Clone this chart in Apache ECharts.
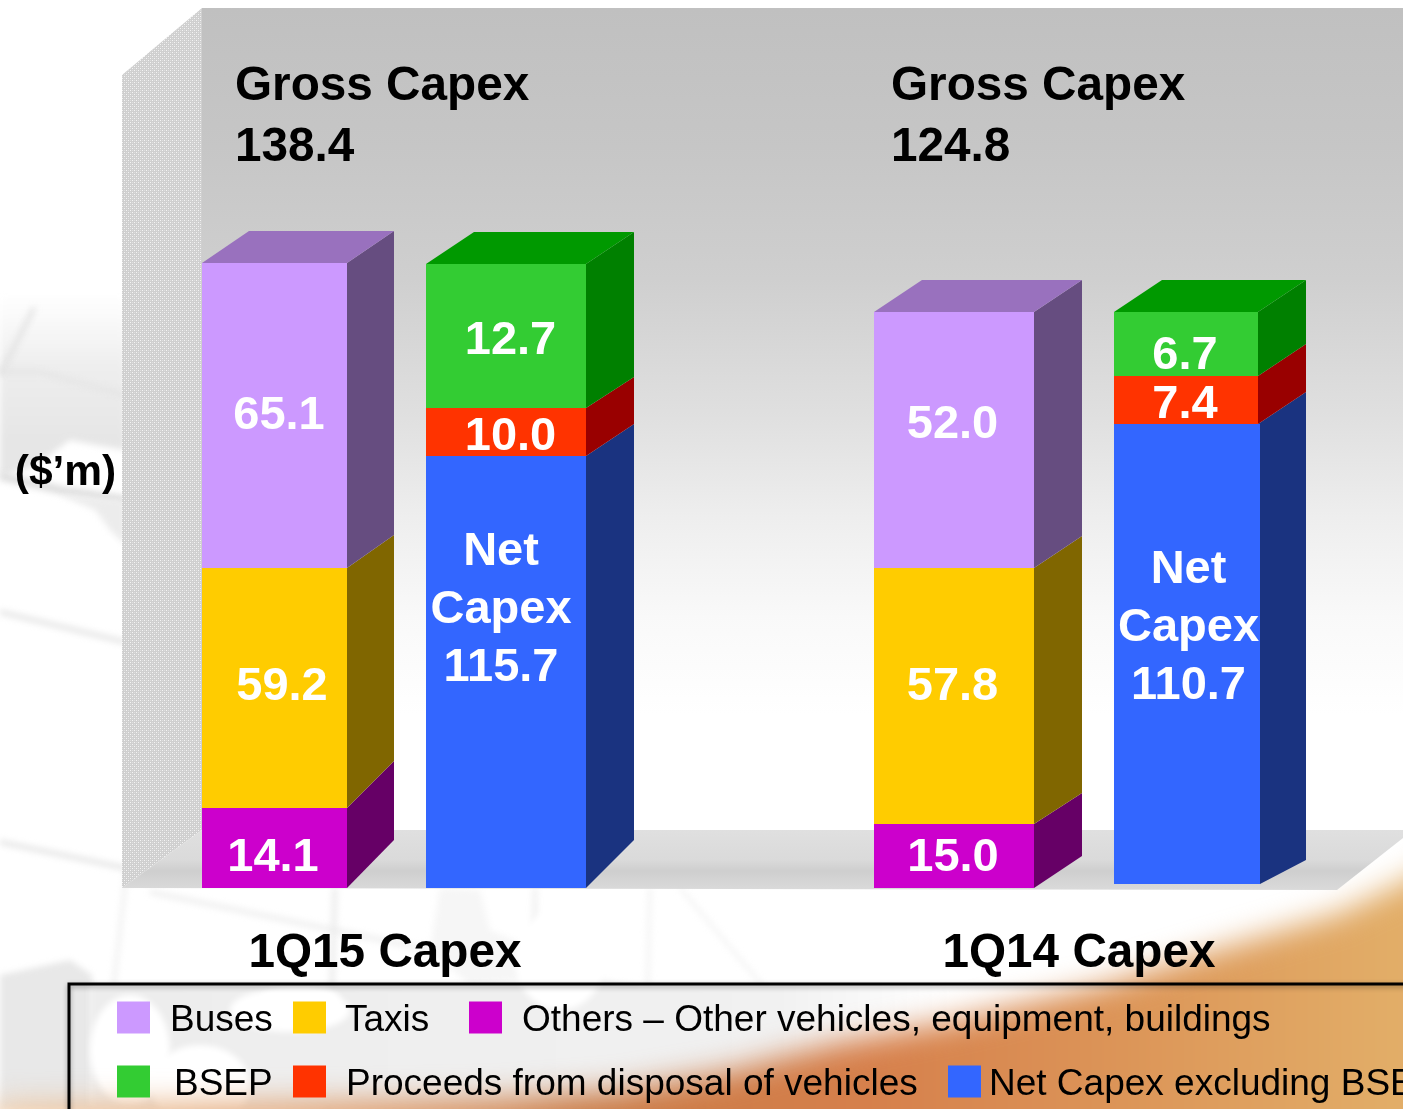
<!DOCTYPE html>
<html>
<head>
<meta charset="utf-8">
<style>html,body{margin:0;padding:0;background:#fff;overflow:hidden}#chart{width:1403px;height:1109px}</style>
<script src="https://cdn.jsdelivr.net/npm/echarts@6/dist/echarts.min.js"></script>
</head>
<body>
<div id="chart"></div>
<script>
// Slots on the category axis (third one is the empty gap between the two quarters)
const barSlots = ['1Q15 Gross', '1Q15 Net', '', '1Q14 Gross', '1Q14 Net'];
const quarterLabels = ['1Q15 Capex', '1Q14 Capex'];
const grossTitle = 'Gross Capex';
const grossTotals = ['138.4', '124.8'];
const unitLabel = '($\u2019m)';

// Printed values, [1Q15, 1Q14]
const busesValues = [65.1, 52.0];
const taxisValues = [59.2, 57.8];
const othersValues = [14.1, 15.0];
const bsepValues = [12.7, 6.7];
const proceedsValues = [10.0, 7.4];
const netCapexValues = [115.7, 110.7];

// The source slide's blocks are not to scale with their printed values:
// these are the block heights, on the axis where 138.4 is the full 1Q15 stack.
const busesDrawn = [67.53, 56.68];
const taxisDrawn = [53.14, 56.68];
const othersDrawn = [17.71, 14.17];
const bsepDrawn = [31.88, 14.17];
const proceedsDrawn = [10.63, 10.63];
const netCapexDrawn = [95.65, 101.85];
const netBaseDrawn = [0, 0.89];

// Style / layout of the pseudo-3D blocks
const FONT = '"Liberation Sans", Arial, sans-serif';
const barStyle = {
  0: { dx: 0.5, w: 145, depth: 47, rise: [48, 47, 33, 32] },
  1: { dx: 4, w: 160, depth: 48, rise: [48, 32, 31, 32] },
  3: { dx: -4, w: 160, depth: 48, rise: [32, 31, 32, 32] },
  4: { dx: 0, w: 144, depth: 48, rise: [24, 32, 32, 32], baseExtra: 2 }
};
const palette = {
  buses: { front: '#CC99FF', side: '#664D80', top: '#9971BE' },
  taxis: { front: '#FFCC00', side: '#806600' },
  others: { front: '#CC00CC', side: '#660066' },
  bsep: { front: '#33CC33', side: '#008000', top: '#009900' },
  proceeds: { front: '#FF3300', side: '#990000' },
  net: { front: '#3366FF', side: '#1A3380' }
};

function stackSeries(name, colors, slots, values, drawn, bases, level, isTop, textOffsets, labelFn, lineHeight) {
  const data = slots.map((slot, i) => [slot, bases[i], bases[i] + drawn[i], values[i], i]);
  return {
    type: 'custom',
    name,
    clip: false,
    z: 3,
    itemStyle: { color: colors.front },
    encode: { x: 0, y: [1, 2] },
    data,
    renderItem(params, api) {
      const slot = api.value(0);
      const g = barStyle[slot];
      const center = api.coord([slot, 0])[0] + g.dx;
      const L = center - g.w / 2;
      const Rplain = L + g.w;
      let Rfront = Rplain;
      const Rback = Rplain + g.depth;
      const i = api.value(4);
      if (level === 0 && g.baseExtra) Rfront += g.baseExtra;
      const yb = api.coord([slot, api.value(1)])[1];
      const yt = api.coord([slot, api.value(2)])[1];
      const rb = g.rise[level], rt = g.rise[level + 1];
      const children = [
        { type: 'rect', shape: { x: L, y: yt, width: Rfront - L, height: yb - yt }, style: { fill: colors.front } },
        { type: 'polygon', shape: { points: [[Rplain, yt], [Rback, yt - rt], [Rback, yb - rb], [Rfront, yb], [Rfront, yt]] }, style: { fill: colors.side } }
      ];
      if (isTop) {
        children.push({ type: 'polygon', shape: { points: [[L, yt], [L + g.depth, yt - rt], [Rback, yt - rt], [Rfront, yt]] }, style: { fill: colors.top } });
      }
      const off = textOffsets[i];
      children.push({
        type: 'text', z2: 10,
        style: {
          x: center + off[0], y: (yb + yt) / 2 + off[1],
          text: labelFn(api.value(3)),
          fill: '#fff', font: 'bold 47px ' + FONT, align: 'center', verticalAlign: 'middle',
          lineHeight: lineHeight || 47
        }
      });
      return { type: 'group', children };
    }
  };
}

const fmt = v => Number(v).toFixed(1);
const zero = [0, 0];
const taxisBase = othersDrawn;
const busesBase = othersDrawn.map((v, i) => v + taxisDrawn[i]);
const proceedsBase = netCapexDrawn.map((v, i) => v + netBaseDrawn[i]);
const bsepBase = proceedsBase.map((v, i) => v + proceedsDrawn[i]);

const NAME_BUSES = 'Buses', NAME_TAXIS = 'Taxis', NAME_OTHERS = 'Others \u2013 Other vehicles, equipment, buildings';
const NAME_BSEP = 'BSEP', NAME_PROCEEDS = 'Proceeds from disposal of vehicles', NAME_NET = 'Net Capex excluding BSEP';

const series = [
  stackSeries(NAME_OTHERS, palette.others, [0, 3], othersValues, othersDrawn, zero, 0, false, [[-1.5, 10], [-1, 2]], fmt),
  stackSeries(NAME_TAXIS, palette.taxis, [0, 3], taxisValues, taxisDrawn, taxisBase, 1, false, [[7.5, -1], [-1.5, -9]], fmt),
  stackSeries(NAME_BUSES, palette.buses, [0, 3], busesValues, busesDrawn, busesBase, 2, true, [[4.5, 0.5], [-1.5, -15]], fmt),
  stackSeries(NAME_NET, palette.net, [1, 4], netCapexValues, netCapexDrawn, netBaseDrawn, 0, false, [[-5, -61.5], [2.5, -26]], v => 'Net\nCapex\n' + fmt(v), 58),
  stackSeries(NAME_PROCEEDS, palette.proceeds, [1, 4], proceedsValues, proceedsDrawn, proceedsBase, 1, false, [[4.5, 5], [-1, 5]], fmt),
  stackSeries(NAME_BSEP, palette.bsep, [1, 4], bsepValues, bsepDrawn, bsepBase, 2, true, [[4.5, 5], [-1, 12]], fmt)
];

function legendItem(name, left, top, pad) {
  return {
    data: [name], left, top, orient: 'horizontal', icon: 'rect', selectedMode: false,
    itemWidth: 33, itemHeight: 32, padding: 0, itemGap: 0,
    formatter: '{t|{name}}',
    textStyle: {
      rich: { t: { fontFamily: FONT, fontSize: 37, color: '#000', padding: [6, 0, 0, pad], lineHeight: 32 } }
    }
  };
}

// Background artwork of the slide: faint watermark and orange sweep
function backgroundArt() {
  const c = document.createElement('canvas');
  c.width = 1403; c.height = 1109;
  const x = c.getContext('2d');
  x.fillStyle = '#fff'; x.fillRect(0, 0, 1403, 1109);
  function poly(pts, fill) {
    x.beginPath(); pts.forEach((p, i) => i ? x.lineTo(p[0], p[1]) : x.moveTo(p[0], p[1])); x.closePath(); x.fillStyle = fill; x.fill();
  }
  function line(pts, w, col) {
    x.beginPath(); pts.forEach((p, i) => i ? x.lineTo(p[0], p[1]) : x.moveTo(p[0], p[1])); x.lineWidth = w; x.strokeStyle = col; x.stroke();
  }
  x.filter = 'blur(3px)';
  // upper-left grey mass
  const g1 = x.createLinearGradient(0, 295, 0, 440);
  g1.addColorStop(0, '#ffffff'); g1.addColorStop(0.5, '#eeeeee'); g1.addColorStop(1, '#e6e6e6');
  poly([[0, 295], [125, 295], [125, 450], [95, 445], [70, 440], [50, 455], [30, 468], [0, 476]], g1);
  line([[0, 372], [40, 372], [125, 395]], 3, '#e2e2e2');
  line([[34, 308], [0, 375]], 4, '#e0e0e0');
  line([[0, 476], [60, 490], [125, 500]], 8, '#dddddd');
  poly([[60, 495], [125, 500], [125, 545], [110, 530], [95, 510]], '#ececec');
  line([[0, 612], [125, 642]], 5, '#e6e6e6');
  line([[0, 842], [125, 868]], 5, '#e6e6e6');
  line([[128, 860], [112, 1000], [100, 1100]], 4, '#f0f0f0');
  // below the floor
  line([[150, 892], [430, 950], [640, 990]], 5, '#efefef');
  line([[335, 888], [328, 1109]], 5, '#ebebeb');
  line([[535, 888], [533, 1109]], 4, '#ececec');
  line([[650, 888], [645, 1109]], 3, '#efefef');
  line([[680, 888], [800, 1030]], 3, '#f1f1f1');
  poly([[440, 888], [480, 890], [490, 930], [560, 960], [520, 980], [470, 985], [430, 950]], '#f6f6f6');
  // grey block lower left
  poly([[0, 975], [70, 960], [92, 975], [92, 1109], [0, 1109]], '#e8e8e8');
  // grey in the legend
  const g2 = x.createLinearGradient(90, 0, 950, 0);
  g2.addColorStop(0, '#ededed'); g2.addColorStop(0.8, '#f1f1f1'); g2.addColorStop(1, '#ffffff');
  poly([[90, 985], [950, 985], [950, 1109], [90, 1109]], g2);
  x.fillStyle = '#fff';
  [[130, 1050, 40, 55], [200, 1085, 50, 40], [290, 1010, 60, 22], [560, 960, 45, 50], [300, 1000, 40, 15]].forEach(e => {
    x.beginPath(); x.ellipse(e[0], e[1], e[2], e[3], 0, 0, 6.3); x.fill();
  });
  // orange sweep
  x.filter = 'blur(15px)';
  const g3 = x.createLinearGradient(0, 0, 1403, 0);
  g3.addColorStop(0, '#f0c8a0'); g3.addColorStop(0.25, '#dd9a68'); g3.addColorStop(0.42, '#c97a45');
  g3.addColorStop(0.62, '#d6804c'); g3.addColorStop(0.8, '#dc9558'); g3.addColorStop(1, '#e2ae68');
  poly([[1460, 850], [1403, 882], [1340, 913], [1200, 955], [1100, 986], [956, 1020], [841, 1042], [726, 1072], [620, 1090], [500, 1099], [300, 1103], [0, 1105], [-40, 1160], [1460, 1160]], g3);
  x.filter = 'none';
  return c;
}

function wallPattern() {
  const c = document.createElement('canvas');
  c.width = 4; c.height = 4;
  const x = c.getContext('2d');
  x.fillStyle = '#cfcfcf'; x.fillRect(0, 0, 4, 4);
  x.fillStyle = '#f4f4f4'; x.fillRect(0, 0, 1, 1); x.fillRect(2, 2, 1, 1);
  x.fillStyle = '#dedede'; x.fillRect(2, 0, 1, 1); x.fillRect(0, 2, 1, 1);
  return c;
}

const wallGradient = new echarts.graphic.LinearGradient(0, 0, 0, 1, [
  { offset: 0, color: '#c0c0c0' }, { offset: 0.17, color: '#c6c6c6' }, { offset: 0.33, color: '#cfcfcf' },
  { offset: 0.5, color: '#e0e0e0' }, { offset: 0.62, color: '#eeeeee' }, { offset: 0.74, color: '#f9f9f9' },
  { offset: 0.86, color: '#ffffff' }, { offset: 1, color: '#ffffff' }
]);
const floorGradient = new echarts.graphic.LinearGradient(0, 0, 0, 1, [
  { offset: 0, color: 'rgba(222,222,222,0.95)' }, { offset: 0.5, color: 'rgba(216,216,216,0.95)' },
  { offset: 0.68, color: 'rgba(204,204,204,0.95)' }, { offset: 1, color: 'rgba(216,216,216,0.95)' }
]);

function headText(text, x, y, align) {
  return { type: 'text', z: 2, style: { text, x, y, fill: '#000', font: 'bold 47.7px ' + FONT, align: align || 'left', verticalAlign: 'middle' } };
}

const chart = echarts.init(document.getElementById('chart'), null, { renderer: 'canvas', width: 1403, height: 1109 });
chart.setOption({
  animation: false,
  backgroundColor: '#fff',
  grid: { left: 160, width: 1140, top: 75, height: 813, containLabel: false },
  xAxis: { type: 'category', data: barSlots, show: false },
  yAxis: { type: 'value', min: 0, max: 180, show: false },
  legend: [
    legendItem(NAME_BUSES, 117, 996, 15),
    legendItem(NAME_TAXIS, 293, 996, 14),
    legendItem(NAME_OTHERS, 469, 996, 15),
    legendItem(NAME_BSEP, 117, 1060, 19),
    legendItem(NAME_PROCEEDS, 293, 1060, 15),
    legendItem(NAME_NET, 948, 1060, 3)
  ],
  graphic: [
    { type: 'image', z: 0, style: { image: backgroundArt(), x: 0, y: 0, width: 1403, height: 1109 } },
    { type: 'polygon', z: 1, shape: { points: [[202, 8], [1403, 8], [1403, 830], [202, 830]] }, style: { fill: wallGradient } },
    { type: 'polygon', z: 1, shape: { points: [[122, 75], [202, 8], [202, 830], [122, 888]] }, style: { fill: { image: wallPattern(), repeat: 'repeat' } } },
    { type: 'polygon', z: 1, shape: { points: [[122, 888], [202, 830], [1403, 830], [1403, 838], [1337, 890]] }, style: { fill: floorGradient } },
    { type: 'rect', z: 1, shape: { x: 69, y: 984, width: 1400, height: 200 }, style: { fill: 'transparent', stroke: '#000', lineWidth: 3, shadowColor: 'rgba(0,0,0,0.35)', shadowBlur: 5, shadowOffsetY: 2 } },
    headText(grossTitle, 235, 87),
    headText(grossTotals[0], 235, 148),
    headText(grossTitle, 891, 87),
    headText(grossTotals[1], 891, 148),
    headText(quarterLabels[0], 385, 954, 'center'),
    headText(quarterLabels[1], 1079, 954, 'center'),
    { type: 'text', z: 2, style: { text: unitLabel, x: 65.5, y: 473, fill: '#000', font: 'bold 42.5px ' + FONT, align: 'center', verticalAlign: 'middle' } }
  ],
  series
});
</script>
</body>
</html>
